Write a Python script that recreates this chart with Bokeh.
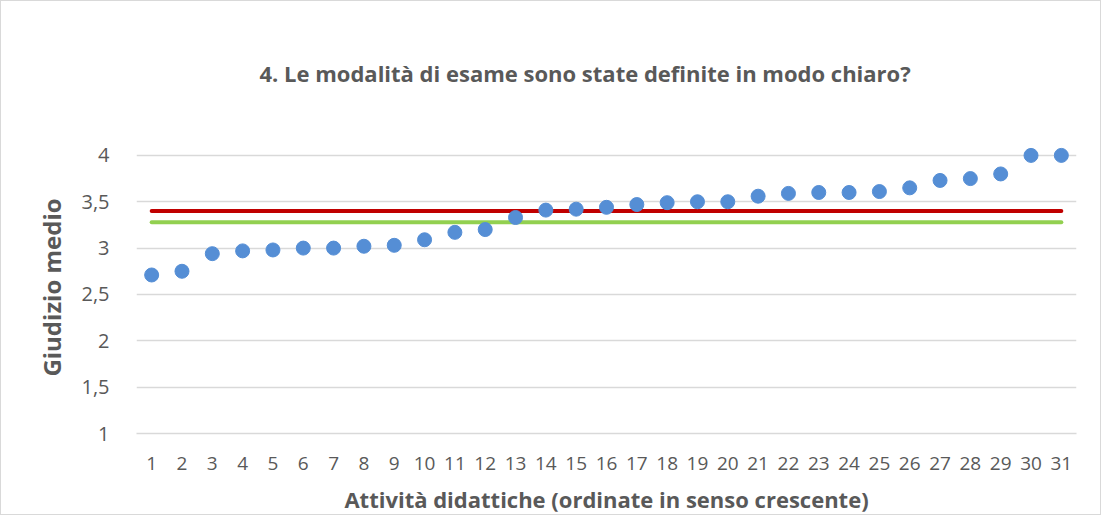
from bokeh.plotting import figure
from bokeh.models import FixedTicker, CustomJSTickFormatter, Range1d, Title
from bokeh.embed import file_html
from bokeh.resources import INLINE

# ---- data ----
attivita = [1, 2, 3, 4, 5, 6, 7, 8, 9, 10, 11, 12, 13, 14, 15, 16,
            17, 18, 19, 20, 21, 22, 23, 24, 25, 26, 27, 28, 29, 30, 31]
giudizio = [2.71, 2.75, 2.94, 2.97, 2.98, 3.00, 3.00, 3.02, 3.03, 3.09,
            3.17, 3.20, 3.33, 3.41, 3.42, 3.44, 3.47, 3.49, 3.50, 3.50,
            3.56, 3.59, 3.60, 3.60, 3.61, 3.65, 3.73, 3.75, 3.80, 4.00, 4.00]
media_rossa = [3.40, 3.40]
media_verde = [3.28, 3.28]
linea_x = [1, 31]
y_ticks = [1, 1.5, 2, 2.5, 3, 3.5, 4]

title_text = "4. Le modalità di esame sono state definite in modo chiaro?"
x_label = "Attività didattiche (ordinate in senso crescente)"
y_label = "Giudizio medio"

FONT = "Open Sans"
GREY = "#595959"
GRID = "#d9d9d9"

p = figure(width=1101, height=515, output_backend="svg", toolbar_location=None,
           x_range=Range1d(0.5, 31.5), y_range=Range1d(1, 4.15),
           min_border_left=135, min_border_right=26, min_border_top=139,
           min_border_bottom=81)
p.outline_line_color = None
p.styles = {"border": "1px solid #d9d9d9"}

t = Title(text=title_text, align="left", text_font=FONT, text_font_size="22px",
          text_font_style="bold", text_color=GREY, standoff=108, offset=123)
p.add_layout(t, "above")

p.line(linea_x, media_verde, line_color="#92D050", line_width=4, line_cap="round")
p.line(linea_x, media_rossa, line_color="#C00000", line_width=4, line_cap="round")
p.scatter(attivita, giudizio, size=14, fill_color="#558ED5", line_color="#558ED5")

# x axis
p.xaxis.ticker = FixedTicker(ticks=attivita)
p.xaxis.axis_label = x_label
p.xaxis.axis_label_text_font = FONT
p.xaxis.axis_label_text_font_size = "22px"
p.xaxis.axis_label_text_font_style = "bold"
p.xaxis.axis_label_text_color = GREY
p.xaxis.axis_label_standoff = 11
p.xaxis.major_label_text_font = FONT
p.xaxis.major_label_text_font_size = "19px"
p.xaxis.major_label_text_color = GREY
p.xaxis.major_label_standoff = 17
p.xaxis.major_tick_line_color = None
p.xaxis.minor_tick_line_color = None
p.xaxis.axis_line_color = GRID
p.xaxis.axis_line_width = 1.5
p.xgrid.grid_line_color = None

# y axis
p.yaxis.ticker = FixedTicker(ticks=y_ticks)
p.yaxis.formatter = CustomJSTickFormatter(code="return tick.toString().replace('.', ',');")
p.yaxis.axis_label = y_label
p.yaxis.axis_label_text_font = FONT
p.yaxis.axis_label_text_font_size = "24px"
p.yaxis.axis_label_text_font_style = "bold"
p.yaxis.axis_label_text_color = GREY
p.yaxis.axis_label_standoff = 10
p.yaxis.major_label_text_font = FONT
p.yaxis.major_label_text_font_size = "20px"
p.yaxis.major_label_text_color = GREY
p.yaxis.major_label_standoff = 21
p.yaxis.major_tick_line_color = None
p.yaxis.minor_tick_line_color = None
p.yaxis.axis_line_color = None
p.ygrid.grid_line_color = GRID
p.ygrid.grid_line_width = 1.5

open("out.html", "w").write(file_html(p, INLINE))
